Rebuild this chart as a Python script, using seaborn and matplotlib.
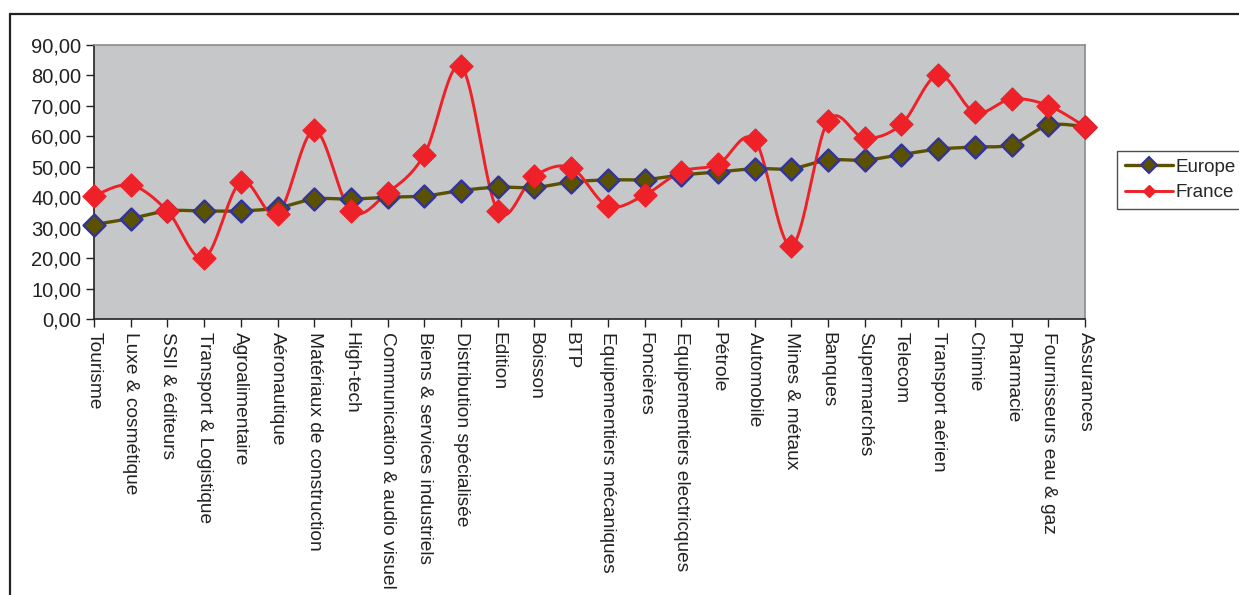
import numpy as np
import pandas as pd
import matplotlib
matplotlib.use("Agg")
import matplotlib.pyplot as plt
from matplotlib.lines import Line2D
from matplotlib.patches import Rectangle
import seaborn as sns

sectors = [
    "Tourisme", "Luxe & cosmétique", "SSII & éditeurs", "Transport & Logistique",
    "Agroalimentaire", "Aéronautique", "Matériaux de construction", "High-tech",
    "Communication & audio visuel", "Biens & services industriels",
    "Distribution spécialisée", "Edition", "Boisson", "BTP",
    "Equipementiers mécaniques", "Foncières", "Equipementiers electricques",
    "Pétrole", "Automobile", "Mines & métaux", "Banques", "Supermarchés",
    "Telecom", "Transport aérien", "Chimie", "Pharmacie",
    "Fournisseurs eau & gaz", "Assurances",
]

europe = [31.0, 33.0, 35.5, 35.5, 35.5, 36.5, 39.4, 39.4, 40.0, 40.4,
          42.2, 43.3, 43.2, 45.0, 45.7, 45.8, 47.3, 48.3, 49.4, 49.4,
          52.2, 52.2, 54.0, 55.8, 56.5, 57.3, 63.6, 63.2]

france = [40.5, 44.0, 35.5, 20.0, 45.0, 34.5, 62.0, 35.5, 41.5, 54.0,
          83.0, 35.5, 47.0, 49.7, 37.1, 40.7, 48.4, 50.8, 58.8, 24.0,
          65.1, 59.4, 64.0, 80.2, 67.9, 72.3, 70.1, 63.2]

series_names = ["Europe", "France"]
y_ticks = [0, 10, 20, 30, 40, 50, 60, 70, 80, 90]

df = pd.DataFrame({"pos": np.arange(len(sectors)), "secteur": sectors,
                   "Europe": europe, "France": france})
long_df = df.melt(id_vars=["pos", "secteur"], value_vars=series_names,
                  var_name="serie", value_name="valeur")

sns.set_theme(style="white")
plt.rcParams["font.family"] = ["Liberation Sans", "DejaVu Sans"]

W, H = 1239, 595
fig = plt.figure(figsize=(W / 100, H / 100), dpi=100)
ax = fig.add_axes([94 / W, 1 - 319 / H, (1085 - 94) / W, (319 - 45) / H])
ax.set_facecolor("#c6c7c9")


def smooth(xs, ys, n=24):
    """Bezier smoothing through every point (tension 1/6 of neighbour span)."""
    xs = np.asarray(xs, float)
    ys = np.asarray(ys, float)
    px = np.concatenate([[xs[0]], xs, [xs[-1]]])
    py = np.concatenate([[ys[0]], ys, [ys[-1]]])
    out_x, out_y = [], []
    t = np.linspace(0, 1, n, endpoint=False)
    for i in range(1, len(px) - 2):
        p0 = np.array([px[i], py[i]])
        p3 = np.array([px[i + 1], py[i + 1]])
        p1 = p0 + (np.array([px[i + 1], py[i + 1]]) - np.array([px[i - 1], py[i - 1]])) / 6
        p2 = p3 - (np.array([px[i + 2], py[i + 2]]) - np.array([px[i], py[i]])) / 6
        b = ((1 - t) ** 3)[:, None] * p0 + (3 * (1 - t) ** 2 * t)[:, None] * p1 \
            + (3 * (1 - t) * t ** 2)[:, None] * p2 + (t ** 3)[:, None] * p3
        out_x.extend(b[:, 0])
        out_y.extend(b[:, 1])
    out_x.append(xs[-1])
    out_y.append(ys[-1])
    return np.array(out_x), np.array(out_y)


styles = {
    "Europe": dict(line="#5a5200", face="#5a5200", edge="#333399", lw=2.4, s=125, mew=1.7),
    "France": dict(line="#ee2028", face="#ee2028", edge="#ee2028", lw=2.1, s=140, mew=0.8),
}

for name in series_names:
    st = styles[name]
    sub = long_df[long_df["serie"] == name]
    sx, sy = smooth(sub["pos"], sub["valeur"])
    curve = pd.DataFrame({"x": sx, "y": sy})
    sns.lineplot(data=curve, x="x", y="y", ax=ax, color=st["line"],
                 linewidth=st["lw"], sort=False, estimator=None, zorder=3)
    sns.scatterplot(data=sub, x="pos", y="valeur", ax=ax, marker="D",
                    s=st["s"], color=st["face"], edgecolor=st["edge"],
                    linewidth=st["mew"], zorder=4, clip_on=False)

ax.set_xlim(0, len(sectors) - 1)
ax.set_ylim(0, 90)
ax.set_xticks(df["pos"])
ax.set_xticklabels(sectors, rotation=270, ha="center", va="top",
                   fontsize=13.8, color="#222222")
ax.set_yticks(y_ticks)
ax.set_yticklabels([f"{v:.2f}".replace(".", ",") for v in y_ticks],
                   fontsize=14.5, color="#222222")
ax.set_xlabel("")
ax.set_ylabel("")
ax.tick_params(axis="both", which="major", direction="out", length=6,
               width=1, color="#222222", pad=3, bottom=True, left=True)
ax.tick_params(axis="x", pad=3)
for side in ["left", "bottom"]:
    ax.spines[side].set_color("#222222")
    ax.spines[side].set_linewidth(1.2)
for side in ["top", "right"]:
    ax.spines[side].set_color("#8c8c8c")
    ax.spines[side].set_linewidth(1.2)

if ax.get_legend() is not None:
    ax.get_legend().remove()

handles = [
    Line2D([], [], color=styles["Europe"]["line"], lw=2.4, marker="D", ms=8,
           markerfacecolor=styles["Europe"]["face"],
           markeredgecolor=styles["Europe"]["edge"], markeredgewidth=1.5),
    Line2D([], [], color=styles["France"]["line"], lw=2.1, marker="D", ms=6,
           markerfacecolor=styles["France"]["face"],
           markeredgecolor=styles["France"]["edge"]),
]
leg = fig.legend(handles, series_names, loc="upper left",
                 bbox_to_anchor=(1117 / W, 1 - 151 / H), fontsize=13.5,
                 frameon=True, fancybox=False, handlelength=2.6,
                 handletextpad=0.12, borderpad=0.4, labelspacing=0.45,
                 borderaxespad=0)
leg.get_frame().set_edgecolor("#222222")
leg.get_frame().set_linewidth(1.0)

# outer chart border
fig.patches.append(Rectangle((10 / W, -0.05), 1.1, 1 - 14 / H + 0.05,
                             transform=fig.transFigure, fill=False,
                             edgecolor="#222222", linewidth=1.6))

fig.savefig("out.png", dpi=100)
